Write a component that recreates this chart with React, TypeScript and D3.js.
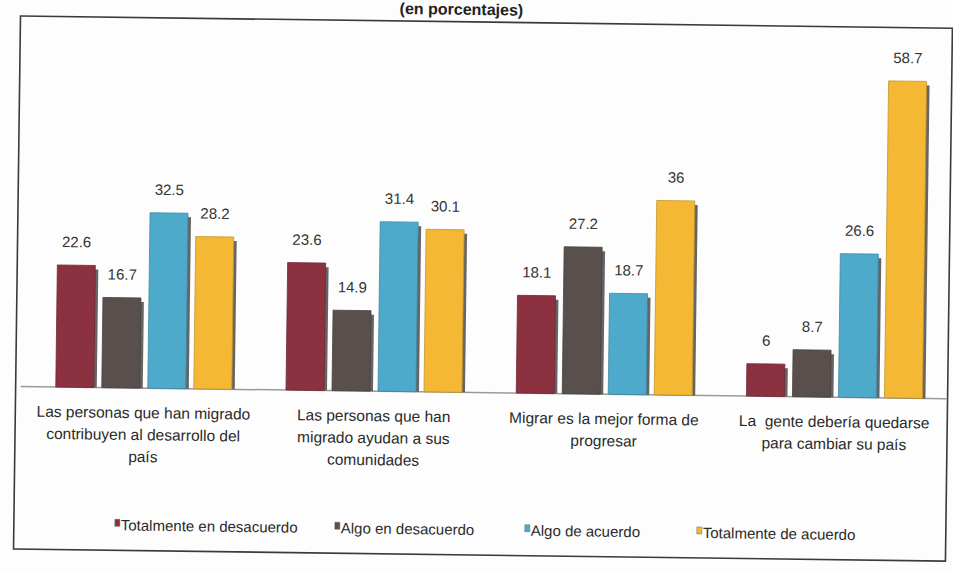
import React from "react";
import * as d3 from "d3";

const categories: string[][] = [
  ["Las personas que han migrado", "contribuyen al desarrollo del", "país"],
  ["Las personas que han", "migrado ayudan a sus", "comunidades"],
  ["Migrar es la mejor forma de", "progresar"],
  ["La  gente debería quedarse", "para cambiar su país"],
];
const seriesNames = [
  "Totalmente en desacuerdo",
  "Algo en desacuerdo",
  "Algo de acuerdo",
  "Totalmente de acuerdo",
];
const totalDesacuerdo = [22.6, 23.6, 18.1, 6];
const algoDesacuerdo = [16.7, 14.9, 27.2, 8.7];
const algoAcuerdo = [32.5, 31.4, 18.7, 26.6];
const totalAcuerdo = [28.2, 30.1, 36, 58.7];
const seriesValues = [totalDesacuerdo, algoDesacuerdo, algoAcuerdo, totalAcuerdo];
const colors = ["#8c3140", "#59504e", "#4eaacb", "#f4b834"];

const W = 953;
const H = 572;
const FONT = "'Liberation Sans', Arial, sans-serif";

export default function App() {
  const baseline = 392.5;
  const x0 = d3
    .scaleBand<number>()
    .domain(d3.range(categories.length))
    .range([30, 951])
    .padding(0);
  const groupW = 176;
  const x1 = d3
    .scaleBand<number>()
    .domain(d3.range(seriesNames.length))
    .range([0, groupW])
    .paddingInner(0.174)
    .paddingOuter(0);
  const y = d3.scaleLinear().domain([0, 60]).range([baseline, baseline - 324]);
  const bw = x1.bandwidth();
  const legendX = [118, 338, 528, 700];
  const legendY = 535;

  return (
    <svg
      width={W}
      height={H}
      style={{ position: "absolute", left: 0, top: 0, background: "#fff" }}
    >
      <rect x={0} y={0} width={W} height={H} fill="#fdfdfd" />
      <g transform={`rotate(0.75, 476, 286)`}>
        <text
          x={396}
          y={15}
          fontFamily={FONT}
          fontWeight="bold"
          fontSize={16}
          fill="#222"
        >
          (en porcentajes)
        </text>
        <rect
          x={17}
          y={22}
          width={932}
          height={533}
          fill="none"
          stroke="#3a3a3a"
          strokeWidth={1.6}
        />
        <line
          x1={22}
          x2={948}
          y1={baseline}
          y2={baseline}
          stroke="#9a9a9a"
          strokeWidth={1.5}
        />
        {categories.map((cat, ci) => {
          const gx = (x0(ci) as number) + (x0.bandwidth() - groupW) / 2;
          return (
            <g key={ci}>
              {seriesValues.map((vals, si) => {
                const v = vals[ci];
                const bx = gx + (x1(si) as number);
                const top = y(v);
                const h = baseline - top;
                return (
                  <g key={si}>
                    <rect
                      x={bx + 3}
                      y={top + 4}
                      width={bw}
                      height={h - 4}
                      fill="#4a4a4a"
                      opacity={0.85}
                    />
                    <rect
                      x={bx}
                      y={top}
                      width={bw}
                      height={h}
                      fill={colors[si]}
                      stroke={d3.color(colors[si])!.darker(0.6).toString()}
                      strokeWidth={0.8}
                    />
                    <text
                      x={bx + bw / 2}
                      y={top - 18}
                      textAnchor="middle"
                      fontFamily={FONT}
                      fontSize={15}
                      fill="#333"
                    >
                      {String(v)}
                    </text>
                  </g>
                );
              })}
              <text
                textAnchor="middle"
                fontFamily={FONT}
                fontSize={15.5}
                fill="#2a2a2a"
                xmlSpace="preserve"
                style={{ whiteSpace: "pre" }}
              >
                {cat.map((line, li) => (
                  <tspan
                    key={li}
                    x={(x0(ci) as number) + x0.bandwidth() / 2}
                    y={baseline + 30 + li * 22}
                  >
                    {line}
                  </tspan>
                ))}
              </text>
            </g>
          );
        })}
        {seriesNames.map((name, si) => (
          <g key={si}>
            <rect
              x={legendX[si]}
              y={legendY - 11}
              width={5}
              height={7}
              fill={colors[si]}
              stroke="#666"
              strokeWidth={0.5}
            />
            <text
              x={legendX[si] + 6}
              y={legendY}
              fontFamily={FONT}
              fontSize={15}
              fill="#2a2a2a"
            >
              {name}
            </text>
          </g>
        ))}
      </g>
    </svg>
  );
}
